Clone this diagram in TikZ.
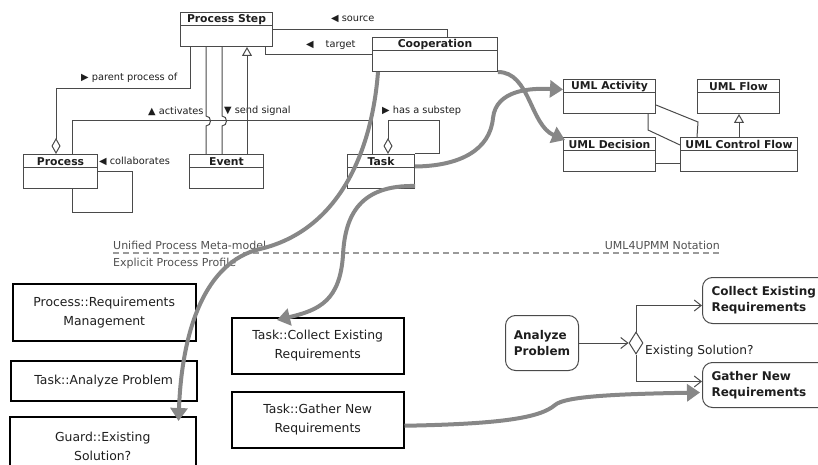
\documentclass[tikz,border=0pt]{standalone}
\usepackage{fontspec}
\setmainfont{DejaVu Sans}
\usetikzlibrary{arrows.meta,shapes.geometric,calc}

\definecolor{umlline}{HTML}{4A4A4A}
\definecolor{umltext}{HTML}{1E1E1E}
\definecolor{bigarrow}{HTML}{878787}
\definecolor{dashc}{HTML}{9A9A9A}
\definecolor{sectext}{HTML}{505050}

\tikzset{
  classbox/.style={draw=umlline, line width=1pt, inner sep=0pt, minimum height=34pt, anchor=north west},
  classtitle/.style={font=\bfseries\fontsize{10.8}{12}\selectfont, text=umltext, inner sep=0pt},
  assoc/.style={draw=umlline, line width=1pt},
  gen/.style={assoc, -{Triangle[open, length=9pt, width=10pt, fill=white]}},
  lbl/.style={font=\fontsize{9.8}{11}\selectfont, text=umltext, inner sep=0pt, anchor=west},
  bigflow/.style={draw=bigarrow, line width=4pt, -{Triangle[length=13pt, width=17pt]}},
  stereobox/.style={draw=black, line width=1.5pt, inner sep=0pt, anchor=north west, align=center,
    font=\fontsize{12.4}{19}\selectfont, text=umltext},
  actnode/.style={draw=umlline, line width=1pt, rounded corners=10pt, anchor=north west,
    inner sep=0pt, align=left, font=\bfseries\fontsize{12}{16}\selectfont, text=umltext},
  flowarrow/.style={assoc, -{Straight Barb[length=7pt, width=11pt]}},
  dashline/.style={draw=dashc, line width=1.3pt, dash pattern=on 6pt off 4pt},
  seclbl/.style={font=\fontsize{11}{12}\selectfont, text=sectext, inner sep=0pt},
}

\newcommand\umlclass[5]{%
  \node[classbox, minimum width=#4pt] (#1) at (#2,#3) {};
  \draw[assoc] ([yshift=-14pt]#1.north west) -- ([yshift=-14pt]#1.north east);
  \node[classtitle] (#1-t) at ([yshift=-7.5pt]#1.north) {#5};
}

\begin{document}
\begin{tikzpicture}[x=1pt,y=-1pt]
\useasboundingbox (0,0) rectangle (818,465);
\clip (0,0) rectangle (818,465);

% ---------- UPM meta-model classes ----------
\umlclass{ps}{180}{12}{92}{Process Step}
\umlclass{coop}{372}{37}{125}{Cooperation}
\umlclass{proc}{23}{154}{74}{Process}
\umlclass{event}{189}{154}{74}{Event}
\umlclass{task}{347}{154}{67}{Task}

% source / target
\draw[assoc] (ps.east) -| ([xshift=75pt]coop.north west);
\node[lbl] (l-src) at (331,19) {◀ source};
\draw[assoc] ([xshift=-8pt]ps.south east) |- (coop.west);
\node[lbl] (l-tgt) at (306,45) {◀\hspace{12pt}target};

% parent process of
\draw[assoc, -{Diamond[open, length=16pt, width=9pt, fill=white]}]
  ([xshift=10pt]ps.south west) -- ++(0,42) -| ([xshift=33pt]proc.north west);
\node[lbl] (l-par) at (81,78) {▶ parent process of};

% activates (horizontal line from Process to Task)
\draw[assoc] ([xshift=49pt]proc.north west) -- ++(0,-33) -| ([xshift=25pt]task.north west);
\node[lbl] (l-act) at (148,111) {▲ activates};

% two associations Process Step -- Event with line hops
\draw[assoc] ([xshift=26pt]ps.south west) -- (206,116)
  .. controls (212,116) and (212,126) .. (206,126) -- ([xshift=17pt]event.north west);
\draw[assoc] ([xshift=42pt]ps.south west) -- (222,116)
  .. controls (228,116) and (228,126) .. (222,126) -- ([xshift=33pt]event.north west);
\node[lbl] (l-sig) at (224,111) {▼ send signal};

% generalization Event -> Process Step
\draw[gen] ([xshift=58pt]event.north west) -- ([xshift=67pt]ps.south west);

% has a substep (Task self aggregation)
\draw[assoc, {Diamond[open, length=16pt, width=9pt, fill=white]}-]
  ([xshift=41pt]task.north west) -- ++(0,-33) -- ++(51,0) -- ++(0,33) -- (task.north east);
\node[lbl] (l-sub) at (382,111) {▶ has a substep};

% collaborates (Process self association)
\draw[assoc] (proc.east) -- ++(34,0) -- ++(0,41) -| ([xshift=49pt]proc.south west);
\node[lbl] (l-col) at (99,161) {◀ collaborates};

% ---------- UML classes ----------
\umlclass{act}{563}{79}{92}{UML Activity}
\umlclass{flow}{697}{79}{82}{UML Flow}
\umlclass{dec}{563}{137}{92}{UML Decision}
\umlclass{cf}{680}{137}{117}{UML Control Flow}

\draw[assoc] ([yshift=-8.5pt]act.east) -- ++(42,17) -- ([xshift=17pt]cf.north west);
\draw[assoc] ([xshift=-8pt]act.south east) -- ++(0,16) -- ([yshift=-8pt]cf.north west);
\draw[assoc] ([yshift=-9pt]dec.east) -- ([yshift=-9pt]cf.west);
\draw[gen] ([xshift=59pt]cf.north west) -- ([xshift=42pt]flow.south west);

% ---------- separator ----------
\coordinate (d1) at (113,253);
\coordinate (d2) at (722,253);
\draw[dashline] (d1) -- (d2);
\node[seclbl, anchor=base west] (s-upm) at (113,249) {Unified Process Meta-model};
\node[seclbl, anchor=base west] (s-epp) at (113,266) {Explicit Process Profile};
\node[seclbl, anchor=base east] (s-uml) at (720,249) {UML4UPMM Notation};

% ---------- profile elements ----------
\node[stereobox, minimum width=183pt, minimum height=57pt] (prm) at (12,283) {Process::Requirements\\Management};
\node[stereobox, minimum width=186pt, minimum height=40pt] (tap) at (10,360) {Task::Analyze Problem};
\node[stereobox, minimum width=186pt, minimum height=60pt] (ges) at (9,416) {Guard::Existing\\Solution?};
\node[stereobox, minimum width=172pt, minimum height=56pt] (tcoll) at (231,317) {Task::Collect Existing\\Requirements};
\node[stereobox, minimum width=172pt, minimum height=56pt] (tgath) at (231,391) {Task::Gather New\\Requirements};

% ---------- activity notation ----------
\node[actnode, minimum width=73pt, minimum height=55pt] (ap) at (505,315) {Analyze\\Problem};
\node[draw=umlline, line width=1pt, diamond, minimum width=14pt, minimum height=22pt, inner sep=0pt, fill=white] (dm) at (636,343) {};
\node[actnode, text width=115pt, inner xsep=9pt, minimum height=46pt] (cer) at (702,277) {Collect Existing\\Requirements};
\node[actnode, text width=115pt, inner xsep=9pt, minimum height=45pt] (gnr) at (702,362) {Gather New\\Requirements};

\draw[flowarrow] (ap.east) -- (dm.west);
\draw[flowarrow] (dm.north) |- ([yshift=-5pt]cer.west);
\draw[flowarrow] (dm.south) |- ([yshift=3.5pt]gnr.west);
\node[font=\fontsize{12.2}{13}\selectfont, text=umltext, inner sep=0pt, anchor=west] (l-es) at (645,351) {Existing Solution?};

% ---------- mapping arrows ----------
\draw[bigflow] (coop.south east) .. controls (530,72) and (530,125) .. ([shift={(2pt,-3pt)}]dec.north west);
\draw[bigflow] ([yshift=5pt]task.east) .. controls (460,166) and (490,150) .. (493,118)
  .. controls (496,90) and (530,88) .. ([yshift=7pt]act.west);
\draw[bigflow] ([xshift=6pt]coop.south west) .. controls (372,150) and (340,230) .. (260,249)
  .. controls (205,262) and (182,330) .. ([shift={(-18pt,-5pt)}]ges.north east);
\draw[bigflow] ([yshift=3pt]task.south east) .. controls (360,185) and (345,215) .. (343,255)
  .. controls (340,300) and (320,310) .. ([shift={(46pt,-3pt)}]tcoll.north west);
\draw[bigflow] ([yshift=-6pt]tgath.east) .. controls (500,424) and (540,418) .. (555,405)
  .. controls (565,396) and (620,394) .. ([shift={(-2pt,-7.5pt)}]gnr.west);
\end{tikzpicture}
\end{document}
